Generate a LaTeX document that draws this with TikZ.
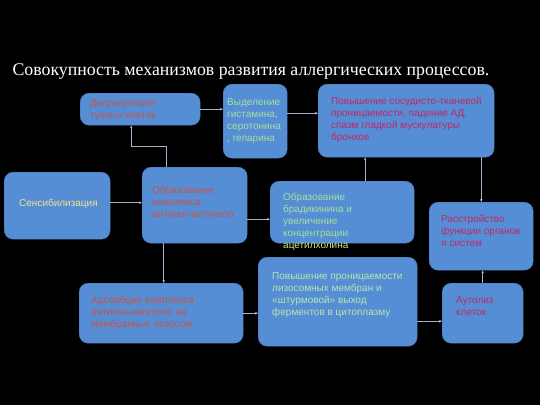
\documentclass[tikz,border=0pt]{standalone}
\usepackage{fontspec}
\setmainfont{Liberation Serif}
\newfontfamily\boxfont{Liberation Sans}
\usetikzlibrary{arrows.meta}

\definecolor{boxblue}{RGB}{85,142,213}
\definecolor{connline}{RGB}{160,180,205}
\definecolor{redtxt}{RGB}{200,84,72}
\definecolor{greentxt}{RGB}{165,222,155}
\definecolor{magtxt}{RGB}{192,40,100}
\definecolor{senstxt}{RGB}{240,226,140}
\definecolor{acetxt}{RGB}{205,232,120}

\tikzset{
  box/.style={fill=boxblue, draw=boxblue!85!black, line width=0.4pt,
    rounded corners=9pt, anchor=north west, inner sep=0pt},
  txt/.style={font=\boxfont\fontsize{10}{12}\selectfont, align=left,
    anchor=north west, inner sep=0pt},
  conn/.style={draw=connline, line width=0.6pt, -{Stealth[length=3pt,width=2.6pt]}},
}

\begin{document}
\begin{tikzpicture}[x=1pt,y=-1pt]
    \fill[black] (0,0) rectangle (540,405); % slide background
    \useasboundingbox (0,0) rectangle (540,405);

    \node[anchor=base west, text=white, font=\fontsize{17.8}{20}\selectfont] (title) at (9,75)
        {Совокупность механизмов развития аллергических процессов.};

    % top row
    \node[box, minimum width=120, minimum height=32] (deg) at (80,93) {};
    \node[txt, text=redtxt] (degtxt) at (90,99) {Дегрануляция\\тучных клеток};
    \node[box, minimum width=64, minimum height=74] (vyd) at (223,84) {};
    \node[txt, text=greentxt] (vydtxt) at (227,98) {Выделение\\гистамина,\\серотонина\\, гепарина};
    \node[box, minimum width=176, minimum height=73] (pov) at (318,84) {};
    \node[txt, text=magtxt] (povtxt) at (331,97)
        {Повышение сосудисто-тканевой\\проницаемости, падение АД,\\спазм гладкой мускулатуры\\бронхов};

    % middle row
    \node[box, minimum width=106, minimum height=67] (sens) at (4,172) {};
    \node[txt, text=senstxt] (senstxt) at (19,199) {Сенсибилизация};
    \node[box, minimum width=105, minimum height=76] (kompl) at (142,167) {};
    \node[txt, text=redtxt] (kompltxt) at (152,186) {Образование\\комплекса\\антиген-антитело};
    \node[box, minimum width=144, minimum height=62] (brad) at (270,181) {};
    \node[txt, text=greentxt] (bradtxt) at (283,193)
        {Образование\\брадикинина и\\увеличение\\концентрации\\\textcolor{acetxt}{ацетилхолина}};
    \node[box, minimum width=104, minimum height=68] (rasstr) at (429,202) {};
    \node[txt, text=magtxt] (rasstrtxt) at (441,215) {Расстройство\\функции органов\\и систем};

    % bottom row
    \node[box, minimum width=164, minimum height=60] (adsorb) at (79,283) {};
    \node[txt, text=redtxt] (adsorbtxt) at (91,296)
        {Адсорбция комплекса\\антиген-антитело на\\мембранных лизосом};
    \node[box, minimum width=159, minimum height=89] (liz) at (258,257) {};
    \node[txt, text=greentxt!80!white] (liztxt) at (272,272)
        {Повышение проницаемости\\лизосомных мембран и\\«штурмовой» выход\\ферментов в цитоплазму};
    \node[box, minimum width=81, minimum height=60] (autoliz) at (442,283) {};
    \node[txt, text=magtxt] (autoliztxt) at (456,296) {Аутолиз\\клеток};

    % connectors
    \draw[conn] ([xshift=-28.5pt]kompl.north) -- ++(0,-21) -| ([xshift=-9pt]deg.south);
    \draw[conn] (deg.east) -- (deg.east -| vyd.west);
    \draw[conn] ([yshift=8pt]vyd.east) -- ([yshift=8pt]vyd.east -| pov.west);
    \draw[conn] ([yshift=3pt]sens.east) -- ([yshift=3pt]sens.east -| kompl.west);
    \draw[conn] ([yshift=-14pt]kompl.east) -- ([yshift=-14pt]kompl.east -| brad.west);
    \draw[conn] ([xshift=23pt]brad.north) -- ([xshift=23pt]brad.north |- pov.south);
    \draw[conn] (pov.south -| rasstr.north) -- (rasstr.north);
    \draw[conn] ([xshift=-31pt]kompl.south) -- ([xshift=-31pt]kompl.south |- adsorb.north);
    \draw[conn] (adsorb.east) -- (adsorb.east -| liz.west);
    \draw[conn] ([yshift=-8pt]autoliz.west -| liz.east) -- ([yshift=-8pt]autoliz.west);
    \draw[conn] (autoliz.north) -- (autoliz.north |- rasstr.south);
\end{tikzpicture}
\end{document}
